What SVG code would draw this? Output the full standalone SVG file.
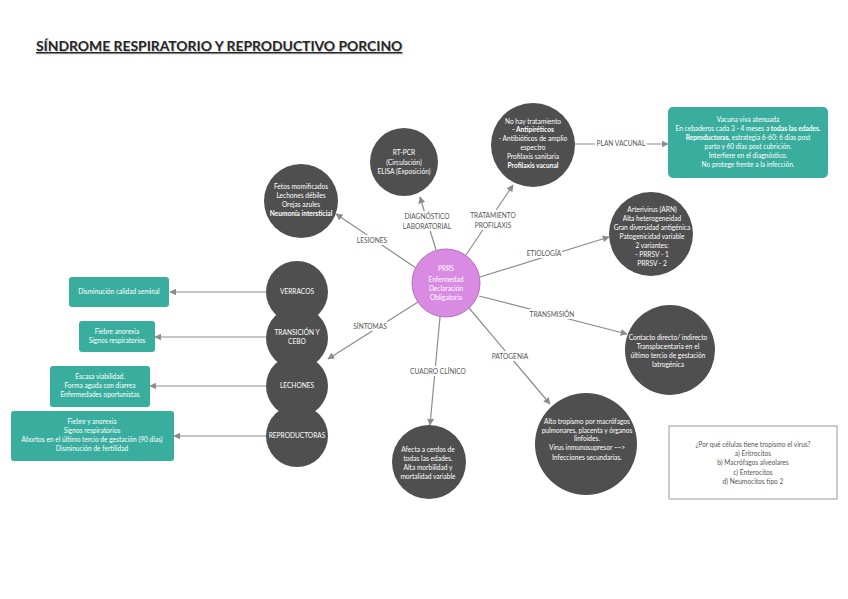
<svg xmlns="http://www.w3.org/2000/svg" width="848" height="599" viewBox="0 0 848 599">
<style>
.t{font-family:Lato,"Open Sans","Liberation Sans",sans-serif;font-size:6.6px;fill:#ffffff;text-anchor:middle}
.b{font-weight:bold}
.lbl{font-family:Lato,"Open Sans","Liberation Sans",sans-serif;font-size:6.6px;fill:#555555;text-anchor:middle;stroke:#ffffff;stroke-width:4;paint-order:stroke;stroke-linejoin:round}
.q{font-family:Lato,"Open Sans","Liberation Sans",sans-serif;font-size:6.6px;fill:#555555;text-anchor:middle}
.dk{fill:#4f4f4f}
.tl{fill:#3aae9e}
.ln{stroke:#8c8c8c;stroke-width:1.2;fill:none}
</style>
<defs>
<marker id="ah" viewBox="0 0 10 10" refX="9" refY="5" markerWidth="7" markerHeight="7" markerUnits="userSpaceOnUse" orient="auto">
<path d="M0,0 L10,5 L0,10 z" fill="#8c8c8c"/>
</marker>
</defs>
<rect width="848" height="599" fill="#ffffff"/>
<text x="36" y="51" font-family="Lato,'Open Sans','Liberation Sans',sans-serif" font-size="13.9" font-weight="bold" fill="#c8c8c8" text-decoration="underline" transform="translate(0.8,1)">SÍNDROME RESPIRATORIO Y REPRODUCTIVO PORCINO</text>
<text x="36" y="51" font-family="Lato,'Open Sans','Liberation Sans',sans-serif" font-size="13.9" font-weight="bold" fill="#262626" text-decoration="underline">SÍNDROME RESPIRATORIO Y REPRODUCTIVO PORCINO</text>

<g id="connectors">
<line class="ln" x1="416" y1="268" x2="336" y2="214" marker-end="url(#ah)"/>
<line class="ln" x1="436" y1="250" x2="420" y2="197" marker-end="url(#ah)"/>
<line class="ln" x1="466" y1="255" x2="513" y2="185" marker-end="url(#ah)"/>
<line class="ln" x1="575" y1="144" x2="668" y2="144" marker-end="url(#ah)"/>
<line class="ln" x1="480" y1="277" x2="609" y2="237" marker-end="url(#ah)"/>
<line class="ln" x1="479" y1="296" x2="627" y2="334" marker-end="url(#ah)"/>
<line class="ln" x1="469" y1="308" x2="550" y2="404" marker-end="url(#ah)"/>
<line class="ln" x1="440" y1="317" x2="430" y2="425" marker-end="url(#ah)"/>
<line class="ln" x1="418" y1="302" x2="328" y2="359" marker-end="url(#ah)"/>
<line class="ln" x1="267" y1="292" x2="170" y2="292" marker-end="url(#ah)"/>
<line class="ln" x1="267" y1="337" x2="155" y2="337" marker-end="url(#ah)"/>
<line class="ln" x1="267" y1="386" x2="150" y2="386" marker-end="url(#ah)"/>
<line class="ln" x1="267" y1="436" x2="174" y2="436" marker-end="url(#ah)"/>
<text class="lbl" x="372" y="243">LESIONES</text>
<text class="lbl" x="427" y="219">DIAGNÓSTICO</text>
<text class="lbl" x="427" y="229">LABORATORIAL</text>
<text class="lbl" x="493" y="218">TRATAMIENTO</text>
<text class="lbl" x="493" y="228">PROFILAXIS</text>
<text class="lbl" x="621" y="146">PLAN VACUNAL</text>
<text class="lbl" x="544" y="256">ETIOLOGÍA</text>
<text class="lbl" x="552" y="317">TRANSMISIÓN</text>
<text class="lbl" x="510" y="359">PATOGENIA</text>
<text class="lbl" x="438" y="374">CUADRO CLÍNICO</text>
<text class="lbl" x="370" y="329">SÍNTOMAS</text>
</g>

<g id="prrs">
<circle cx="446" cy="283" r="34" fill="#d98be3" stroke="#b86cc4" stroke-width="1"/>
<text class="t" x="446" y="271" font-size="9.5">PRRS</text>
<text class="t" x="446" y="282">Enfermedad</text>
<text class="t" x="446" y="291">Declaración</text>
<text class="t" x="446" y="300">Obligatoria</text>
</g>

<g id="lesiones">
<circle class="dk" cx="301" cy="201" r="37"/>
<text class="t" x="301" y="189">Fetos momificados</text>
<text class="t" x="301" y="198">Lechones débiles</text>
<text class="t" x="301" y="207">Orejas azules</text>
<text class="t b" x="301" y="216">Neumonía intersticial</text>
</g>

<g id="diagnostico">
<circle class="dk" cx="404" cy="162" r="34"/>
<text class="t" x="404" y="155">RT-PCR</text>
<text class="t" x="404" y="165">(Circulación)</text>
<text class="t" x="404" y="174">ELISA (Exposición)</text>
</g>

<g id="tratamiento">
<circle class="dk" cx="533" cy="145" r="42"/>
<text class="t" x="533" y="124">No hay tratamiento</text>
<text class="t b" x="533" y="132">- Antipiréticos</text>
<text class="t" x="533" y="141">- Antibióticos de amplio</text>
<text class="t" x="533" y="150">espectro</text>
<text class="t" x="533" y="159">Profilaxis sanitaria</text>
<text class="t b" x="533" y="168">Profilaxis vacunal</text>
</g>

<g id="vacuna">
<rect class="tl" x="668" y="107" width="160" height="71" rx="5"/>
<text class="t" x="748" y="122">Vacuna viva atenuada</text>
<text class="t" x="748" y="131">En cebaderos cada 3 - 4 meses a <tspan class="b">todas las edades.</tspan></text>
<text class="t" x="748" y="140"><tspan class="b">Reproductoras</tspan>, estrategia 6-60:  6 días post</text>
<text class="t" x="748" y="149">parto y 60 días post cubrición.</text>
<text class="t" x="748" y="158" font-size="7">Interfiere en el diagnóstico.</text>
<text class="t" x="748" y="167">No protege frente a la infección.</text>
</g>

<g id="etiologia">
<circle class="dk" cx="651" cy="234" r="42"/>
<text class="t" x="652" y="212">Arterivirus (ARN)</text>
<text class="t" x="652" y="221">Alta heterogeneidad</text>
<text class="t" x="652" y="230" font-size="6.3">Gran diversidad antigénica</text>
<text class="t" x="652" y="239">Patogenicidad variable</text>
<text class="t" x="652" y="248">2 variantes:</text>
<text class="t" x="652" y="257">- PRRSV - 1</text>
<text class="t" x="652" y="266">PRRSV - 2</text>
</g>

<g id="transmision">
<circle class="dk" cx="670" cy="350" r="45"/>
<text class="t" x="668" y="340">Contacto directo/ indirecto</text>
<text class="t" x="668" y="349">Transplacentaria en el</text>
<text class="t" x="668" y="358">último tercio de gestación</text>
<text class="t" x="668" y="367">Iatrogénica</text>
</g>

<g id="patogenia">
<circle class="dk" cx="586" cy="444" r="51"/>
<text class="t" x="587" y="424">Alto tropismo por macrófagos</text>
<text class="t" x="587" y="433">pulmonares, placenta y órganos</text>
<text class="t" x="587" y="441">linfoides.</text>
<text class="t" x="587" y="450">Virus inmunosupresor ---&gt;</text>
<text class="t" x="587" y="460">Infecciones secundarias.</text>
</g>

<g id="cuadro">
<circle class="dk" cx="429" cy="462" r="37"/>
<text class="t" x="428" y="452">Afecta a cerdos de</text>
<text class="t" x="428" y="461">todas las edades.</text>
<text class="t" x="428" y="470">Alta morbilidad y</text>
<text class="t" x="428" y="479">mortalidad variable</text>
</g>

<g id="verracos">
<circle class="dk" cx="297" cy="292" r="31"/>
<text class="t" x="297" y="294">VERRACOS</text>
</g>
<g id="transicion">
<circle class="dk" cx="297" cy="338" r="31"/>
<text class="t" x="297" y="335">TRANSICIÓN Y</text>
<text class="t" x="297" y="344">CEBO</text>
</g>
<g id="lechones">
<circle class="dk" cx="297" cy="386" r="31"/>
<text class="t" x="297" y="388">LECHONES</text>
</g>
<g id="reproductoras">
<circle class="dk" cx="297" cy="436" r="31"/>
<text class="t" x="297" y="438">REPRODUCTORAS</text>
</g>

<g id="box-verracos">
<rect class="tl" x="69" y="277" width="100" height="30" rx="3"/>
<text class="t" x="119" y="294">Disminución calidad seminal</text>
</g>
<g id="box-transicion">
<rect class="tl" x="79" y="321" width="76" height="31" rx="3"/>
<text class="t" x="117" y="334">Fiebre anorexia</text>
<text class="t" x="117" y="343">Signos respiratorios</text>
</g>
<g id="box-lechones">
<rect class="tl" x="50" y="366" width="100" height="41" rx="3"/>
<text class="t" x="100" y="379">Escasa viabilidad.</text>
<text class="t" x="100" y="388">Forma aguda con diarrea</text>
<text class="t" x="100" y="397">Enfermedades oportunistas</text>
</g>
<g id="box-reproductoras">
<rect class="tl" x="11" y="411" width="163" height="50" rx="3"/>
<text class="t" x="92" y="424">Fiebre y anorexia</text>
<text class="t" x="92" y="433">Signos respiratorios</text>
<text class="t" x="92" y="442">Abortos en el último tercio de gestación (90 días)</text>
<text class="t" x="92" y="451">Disminución de fertilidad</text>
</g>

<g id="pregunta">
<rect x="669" y="426" width="168" height="73" fill="#ffffff" stroke="#9a9a9a" stroke-width="1"/>
<text class="q" x="753" y="447">¿Por qué células tiene tropismo el virus?</text>
<text class="q" x="753" y="456">a) Eritrocitos</text>
<text class="q" x="753" y="465" fill="#333333">b) Macrófagos alveolares</text>
<text class="q" x="753" y="475">c) Enterocitos</text>
<text class="q" x="753" y="484">d) Neumocitos tipo 2</text>
</g>
</svg>
